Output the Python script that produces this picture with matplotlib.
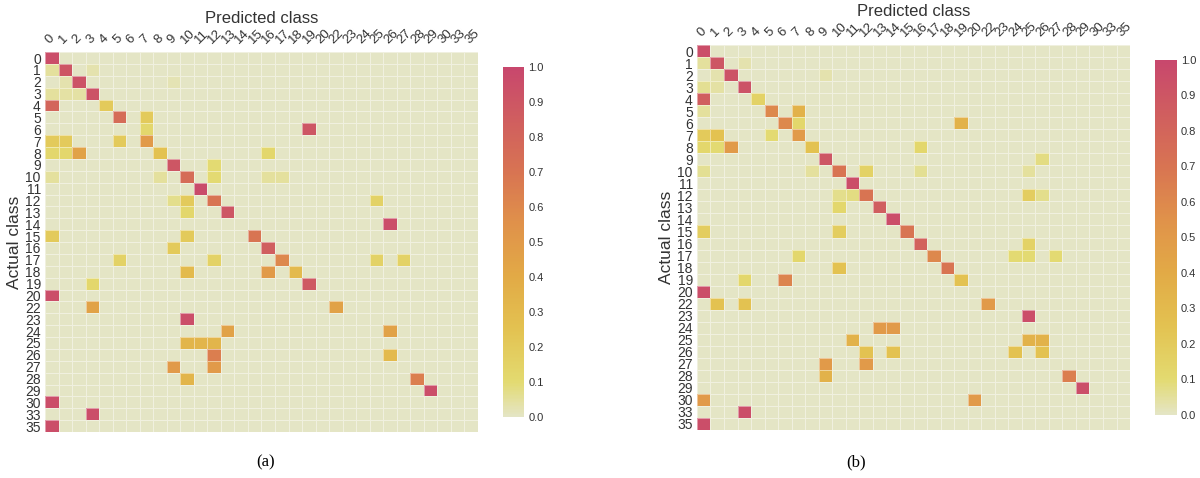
import matplotlib.pyplot as plt
import numpy as np
from matplotlib.colors import LinearSegmentedColormap

plt.rcParams['font.family'] = ['Liberation Sans', 'DejaVu Sans']

classes = list(range(21)) + [22, 23, 24, 25, 26, 27, 28, 29, 30, 33, 35]

# (actual class, predicted class, share) - every other cell is 0
cells_a = [
    (0, 0, 0.95),
    (1, 0, 0.05), (1, 1, 0.9), (1, 3, 0.03),
    (2, 1, 0.03), (2, 2, 0.92), (2, 9, 0.02),
    (3, 0, 0.05), (3, 1, 0.04), (3, 2, 0.04), (3, 3, 0.92),
    (4, 0, 0.8), (4, 4, 0.2),
    (5, 5, 0.75), (5, 7, 0.2),
    (6, 7, 0.12), (6, 19, 0.9),
    (7, 0, 0.2), (7, 1, 0.2), (7, 5, 0.2), (7, 7, 0.5),
    (8, 0, 0.12), (8, 1, 0.12), (8, 2, 0.45), (8, 8, 0.25), (8, 16, 0.12),
    (9, 9, 0.9), (9, 12, 0.1),
    (10, 0, 0.05), (10, 8, 0.05), (10, 10, 0.75), (10, 12, 0.1),
    (10, 16, 0.05), (10, 17, 0.05),
    (11, 11, 0.97),
    (12, 9, 0.07), (12, 10, 0.2), (12, 12, 0.7), (12, 25, 0.15),
    (13, 10, 0.12), (13, 13, 0.9),
    (14, 26, 0.95),
    (15, 0, 0.2), (15, 10, 0.2), (15, 15, 0.7),
    (16, 9, 0.2), (16, 16, 0.85),
    (17, 5, 0.15), (17, 12, 0.15), (17, 17, 0.6), (17, 25, 0.15), (17, 27, 0.15),
    (18, 10, 0.3), (18, 16, 0.5), (18, 18, 0.3),
    (19, 3, 0.12), (19, 19, 0.88),
    (20, 0, 0.95),
    (22, 3, 0.45), (22, 22, 0.45),
    (23, 10, 0.95),
    (24, 13, 0.45), (24, 26, 0.45),
    (25, 10, 0.33), (25, 11, 0.33), (25, 12, 0.33),
    (26, 12, 0.65), (26, 26, 0.3),
    (27, 9, 0.5), (27, 12, 0.5),
    (28, 10, 0.33), (28, 28, 0.65),
    (29, 29, 0.95),
    (30, 0, 0.95),
    (33, 3, 0.95),
    (35, 0, 0.95),
]

cells_b = [
    (0, 0, 0.95),
    (1, 0, 0.05), (1, 1, 0.9), (1, 3, 0.03),
    (2, 1, 0.03), (2, 2, 0.92), (2, 9, 0.03),
    (3, 0, 0.06), (3, 1, 0.04), (3, 3, 0.92),
    (4, 0, 0.85), (4, 4, 0.15),
    (5, 0, 0.05), (5, 5, 0.6), (5, 7, 0.35),
    (6, 6, 0.6), (6, 7, 0.12), (6, 19, 0.35),
    (7, 0, 0.2), (7, 1, 0.25), (7, 5, 0.1), (7, 7, 0.5),
    (8, 0, 0.12), (8, 1, 0.1), (8, 2, 0.5), (8, 8, 0.25), (8, 16, 0.12),
    (9, 9, 0.9), (9, 26, 0.08),
    (10, 0, 0.06), (10, 8, 0.05), (10, 10, 0.7), (10, 12, 0.15),
    (10, 16, 0.06), (10, 25, 0.05),
    (11, 11, 0.95),
    (12, 10, 0.07), (12, 11, 0.08), (12, 12, 0.7), (12, 25, 0.18), (12, 26, 0.07),
    (13, 10, 0.12), (13, 13, 0.85),
    (14, 14, 0.95),
    (15, 0, 0.18), (15, 10, 0.18), (15, 15, 0.7),
    (16, 16, 0.82), (16, 25, 0.15),
    (17, 7, 0.12), (17, 17, 0.6), (17, 24, 0.1), (17, 25, 0.1), (17, 27, 0.1),
    (18, 10, 0.25), (18, 18, 0.7),
    (19, 3, 0.12), (19, 6, 0.62), (19, 19, 0.25),
    (20, 0, 0.95),
    (22, 1, 0.25), (22, 3, 0.25), (22, 22, 0.5),
    (23, 25, 0.95),
    (24, 13, 0.5), (24, 14, 0.5),
    (25, 11, 0.35), (25, 25, 0.35), (25, 26, 0.35),
    (26, 12, 0.25), (26, 14, 0.25), (26, 24, 0.25), (26, 26, 0.25),
    (27, 9, 0.5), (27, 12, 0.5),
    (28, 9, 0.35), (28, 28, 0.65),
    (29, 29, 0.95),
    (30, 0, 0.5), (30, 20, 0.5),
    (33, 3, 0.95),
    (35, 0, 0.95),
]

cmap = LinearSegmentedColormap.from_list('conf', [
    (0.0, '#e4e5c5'), (0.1, '#e3da70'), (0.25, '#e3c251'),
    (0.4, '#e2aa46'), (0.55, '#e0924a'), (0.7, '#d87452'),
    (0.85, '#d05e5f'), (1.0, '#c8476d')])


def build_matrix(cells):
    '''Turns the list of non-zero cells into a full confusion matrix.'''
    pos = {c: i for i, c in enumerate(classes)}
    m = np.zeros((len(classes), len(classes)))
    for actual, predicted, share in cells:
        m[pos[actual], pos[predicted]] = share
    return m


def draw_matrix(fig, ax_rect, cbar_rect, cells, caption, caption_x):
    ax = fig.add_axes(ax_rect)
    m = build_matrix(cells)
    mesh = ax.pcolormesh(m, cmap=cmap, vmin=0, vmax=1,
                         edgecolors=(1, 1, 1, 0.45), linewidth=0.6)
    ax.set_xlim(0, len(classes))
    ax.set_ylim(len(classes), 0)

    ax.xaxis.tick_top()
    ax.set_xticks(np.arange(len(classes)) + 0.5)
    ax.set_xticklabels(classes, rotation=45, ha='left',
                       rotation_mode='anchor', fontsize=9.5, color='#333333')
    ax.set_yticks(np.arange(len(classes)) + 0.5)
    ax.set_yticklabels(classes, fontsize=10, color='#333333')
    ax.tick_params(axis='x', length=0, pad=4)
    ax.tick_params(axis='y', length=0, pad=3)
    for s in ax.spines.values():
        s.set_visible(False)

    ax.set_title('Predicted class', fontsize=12, color='#333333', pad=21)
    ax.set_ylabel('Actual class', fontsize=12.5, color='#333333', labelpad=2)

    cax = fig.add_axes(cbar_rect)
    cbar = fig.colorbar(mesh, cax=cax, ticks=np.linspace(0, 1, 11))
    cbar.ax.set_yticklabels([f'{t:.1f}' for t in np.linspace(0, 1, 11)])
    cbar.ax.tick_params(length=0, labelsize=8, colors='#333333', pad=3)
    cbar.outline.set_visible(False)

    fig.text(caption_x, 0.033, caption, ha='center', va='center',
             fontsize=12, family='Liberation Serif')


fig = plt.figure(figsize=(12, 4.78), dpi=100)

draw_matrix(fig, [0.0375, 0.0962, 0.3608, 0.7948],
            [0.419, 0.1276, 0.018, 0.7324], cells_a, '(a)', 0.221)
draw_matrix(fig, [0.5808, 0.1004, 0.3609, 0.8054],
            [0.9625, 0.1318, 0.018, 0.7427], cells_b, '(b)', 0.713)

fig.savefig('out.png', dpi=100)
